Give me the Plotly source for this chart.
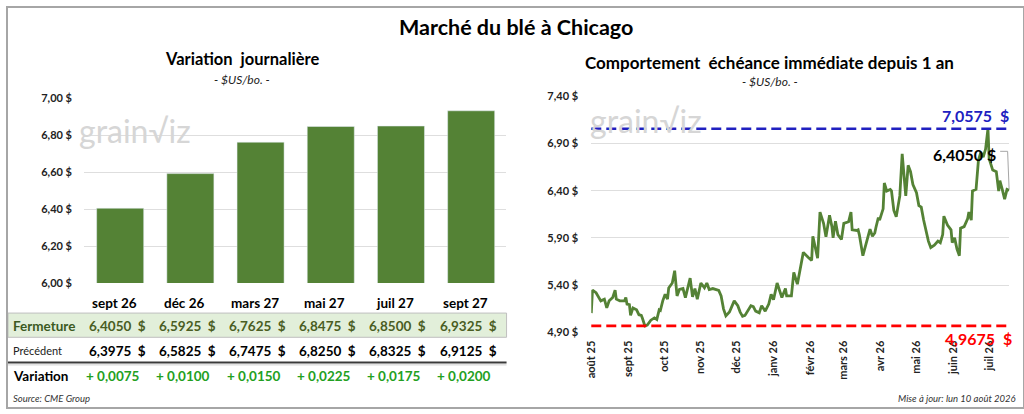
import plotly.graph_objects as go

# ---------------- data ----------------
contracts = ["sept 26", "déc 26", "mars 27", "mai 27", "juil 27", "sept 27"]
close = [6.4050, 6.5925, 6.7625, 6.8475, 6.8500, 6.9325]
previous = [6.3975, 6.5825, 6.7475, 6.8250, 6.8325, 6.9125]

hist_dates = [
    "2025-08-01", "2025-08-02", "2025-08-05", "2025-08-07", "2025-08-09", "2025-08-12", "2025-08-14",
    "2025-08-16", "2025-08-19", "2025-08-21", "2025-08-22", "2025-08-25", "2025-08-29", "2025-08-30",
    "2025-08-31", "2025-09-02", "2025-09-03", "2025-09-05", "2025-09-08", "2025-09-10", "2025-09-12",
    "2025-09-13", "2025-09-15", "2025-09-17", "2025-09-20", "2025-09-23", "2025-09-25", "2025-09-27",
    "2025-09-28", "2025-09-30", "2025-10-02", "2025-10-04", "2025-10-05", "2025-10-08", "2025-10-10",
    "2025-10-12", "2025-10-14", "2025-10-17", "2025-10-19", "2025-10-23", "2025-10-25", "2025-10-27",
    "2025-10-29", "2025-11-01", "2025-11-04", "2025-11-06", "2025-11-08", "2025-11-11", "2025-11-16",
    "2025-11-18", "2025-11-20", "2025-11-22", "2025-11-25", "2025-11-29", "2025-12-02", "2025-12-04",
    "2025-12-06", "2025-12-08", "2025-12-11", "2025-12-13", "2025-12-15", "2025-12-17", "2025-12-20",
    "2025-12-22", "2025-12-25", "2025-12-28", "2025-12-30", "2026-01-01", "2026-01-04", "2026-01-07",
    "2026-01-08", "2026-01-11", "2026-01-12", "2026-01-16", "2026-01-18", "2026-01-21", "2026-01-26",
    "2026-01-30", "2026-02-02", "2026-02-03", "2026-02-05", "2026-02-07", "2026-02-09", "2026-02-12",
    "2026-02-14", "2026-02-17", "2026-02-19", "2026-02-20", "2026-02-22", "2026-02-24", "2026-02-27",
    "2026-03-01", "2026-03-05", "2026-03-07", "2026-03-08", "2026-03-12", "2026-03-13", "2026-03-14",
    "2026-03-17", "2026-03-21", "2026-03-23", "2026-03-25", "2026-03-27", "2026-03-28", "2026-03-30",
    "2026-03-31", "2026-04-03", "2026-04-04", "2026-04-06", "2026-04-09", "2026-04-10", "2026-04-12",
    "2026-04-14", "2026-04-17", "2026-04-19", "2026-04-22", "2026-04-24", "2026-04-26", "2026-04-28",
    "2026-05-01", "2026-05-03", "2026-05-05", "2026-05-07", "2026-05-11", "2026-05-13", "2026-05-16",
    "2026-05-19", "2026-05-21", "2026-05-23", "2026-05-24", "2026-05-27", "2026-05-30", "2026-05-31",
    "2026-06-02", "2026-06-04", "2026-06-06", "2026-06-07", "2026-06-10", "2026-06-13", "2026-06-14",
    "2026-06-16", "2026-06-17", "2026-06-20", "2026-06-22", "2026-06-24", "2026-06-26", "2026-06-28",
    "2026-06-30", "2026-07-01", "2026-07-04", "2026-07-07", "2026-07-09", "2026-07-10", "2026-07-12",
    "2026-07-14", "2026-07-16", "2026-07-18",
]
hist_values = [
    5.103, 5.346, 5.319, 5.275, 5.233, 5.251, 5.158,
    5.233, 5.268, 5.346, 5.251, 5.233, 5.233, 5.268,
    5.199, 5.192, 5.079, 5.158, 5.138, 5.086, 5.079,
    5.045, 4.9675, 4.977, 5.028, 5.052, 5.035, 5.138,
    5.131, 5.233, 5.302, 5.251, 5.370, 5.422, 5.552,
    5.285, 5.353, 5.363, 5.268, 5.473, 5.275, 5.363,
    5.251, 5.422, 5.370, 5.422, 5.353, 5.363, 5.343,
    5.285, 5.148, 5.073, 5.114, 5.233, 5.182, 5.114,
    5.069, 5.079, 5.141, 5.182, 5.172, 5.124, 5.107,
    5.182, 5.124, 5.199, 5.302, 5.244, 5.422, 5.302,
    5.268, 5.363, 5.285, 5.285, 5.535, 5.410, 5.747,
    5.695, 5.661, 5.918, 5.815, 5.685, 6.174, 6.054,
    5.911, 6.140, 6.020, 5.900, 6.078, 5.935, 5.883,
    6.054, 6.071, 6.174, 5.986, 5.979, 5.986, 5.935,
    5.712, 5.883, 5.993, 5.918, 5.952, 6.013, 6.116,
    6.089, 6.208, 6.482, 6.397, 6.414, 6.400, 6.191,
    6.123, 6.345, 6.790, 6.345, 6.670, 6.602, 6.465,
    6.380, 6.243, 6.226, 6.089, 5.866, 5.798, 5.822,
    5.866, 5.849, 5.935, 6.130, 6.037, 5.986, 5.849,
    5.900, 5.781, 5.712, 6.003, 6.020, 6.106, 6.174,
    6.089, 6.397, 6.414, 6.722, 6.807, 6.756, 6.842,
    7.0575, 6.739, 6.619, 6.602, 6.397, 6.506, 6.414,
    6.311, 6.414, 6.405,
]

month_ticks = ["2025-08-01", "2025-09-01", "2025-10-01", "2025-11-01", "2025-12-01", "2026-01-01",
               "2026-02-01", "2026-03-01", "2026-04-01", "2026-05-01", "2026-06-01", "2026-07-01"]
month_labels = ["août 25", "sept 25", "oct 25", "nov 25", "déc 25", "janv 26",
                "févr 26", "mars 26", "avr 26", "mai 26", "juin 26", "juil 26"]

# ---------------- helpers ----------------
W, H = 1024, 414
FONT = "Lato"
GREEN = "#548235"


def fx(px):
    return px / W


def fy(py):
    return 1 - py / H


def fr(v, d=4):
    return f"{v:.{d}f}".replace(".", ",")


hi = max(hist_values)
lo = min(hist_values)
last = hist_values[-1]

fig = go.Figure()

fig.add_trace(go.Bar(x=contracts, y=close, marker_color=GREEN, xaxis="x", yaxis="y",
                     hoverinfo="x+y", showlegend=False))
fig.add_trace(go.Scatter(x=hist_dates, y=hist_values, mode="lines", xaxis="x2", yaxis="y2",
                         line=dict(color=GREEN, width=2.8), showlegend=False))

tickfont = dict(family=FONT, size=11, color="#222222", weight="bold")

fig.update_layout(
    width=W, height=H,
    margin=dict(l=0, r=0, t=0, b=0),
    paper_bgcolor="white", plot_bgcolor="white",
    separators=", ",
    bargap=0.33,
    font=dict(family=FONT, color="#000000"),
    xaxis=dict(domain=[fx(77.7), fx(502.7)], anchor="y", showticklabels=False,
               showgrid=False, showline=False, zeroline=False, fixedrange=True),
    yaxis=dict(domain=[fy(285), fy(94.3)], anchor="x", range=[6.0, 7.0], dtick=0.2,
               tickformat=".2f", ticksuffix=" $", showgrid=True, gridcolor="#dedede",
               gridwidth=1, zeroline=False, showline=False, ticks="outside", ticklen=9,
               tickcolor="rgba(0,0,0,0)", tickfont=tickfont),
    xaxis2=dict(domain=[fx(588.3), fx(1009.3)], anchor="y2", type="date",
                range=[hist_dates[0], hist_dates[-1]], tickvals=month_ticks, ticktext=month_labels,
                tickangle=-90, tickfont=tickfont, showgrid=False, zeroline=False,
                showline=False, ticks="outside", ticklen=3, tickcolor="rgba(0,0,0,0)"),
    yaxis2=dict(domain=[fy(335.8), fy(92.3)], anchor="x2", range=[4.9, 7.4], tick0=4.9,
                dtick=0.5, tickformat=".2f", ticksuffix=" $", showgrid=True,
                gridcolor="#dedede", gridwidth=1, zeroline=False, showline=False,
                ticks="outside", ticklen=10, tickcolor="rgba(0,0,0,0)", tickfont=tickfont),
)

shapes = []
# outer frame
shapes.append(dict(type="rect", xref="paper", yref="paper", x0=0, x1=1, y0=0, y1=1,
                   line=dict(color="#a6a6a6", width=2), fillcolor="rgba(0,0,0,0)", layer="above"))
# table : Fermeture band
shapes.append(dict(type="rect", xref="paper", yref="paper", x0=fx(1), x1=fx(503),
                   y0=fy(341), y1=fy(316), fillcolor="#e2efda",
                   line=dict(color="#bfbfbf", width=1), layer="below"))
# thick line under Précédent
shapes.append(dict(type="line", xref="paper", yref="paper", x0=fx(1), x1=fx(503),
                   y0=fy(367), y1=fy(367), line=dict(color="#3a3a3a", width=2)))
shapes.append(dict(type="line", xref="paper", yref="paper", x0=fx(1), x1=fx(503),
                   y0=fy(369.5), y1=fy(369.5), line=dict(color="#d0d0d0", width=1)))
# max / min dashed lines
shapes.append(dict(type="line", xref="x2 domain", yref="y2", x0=0, x1=1, y0=hi, y1=hi,
                   line=dict(color="#2020c0", width=2.6, dash="10px,5px")))
shapes.append(dict(type="line", xref="x2 domain", yref="y2", x0=0, x1=1, y0=lo, y1=lo,
                   line=dict(color="#ff0000", width=2.6, dash="10px,5px")))
# leader line for last value label
shapes.append(dict(type="path", xref="paper", yref="paper",
                   path=f"M {fx(1000)},{fy(149)} L {fx(1007.5)},{fy(149)} L {fx(1009)},{fy(188)}",
                   line=dict(color="#a6a6a6", width=1)))
fig.update_layout(shapes=shapes)

ann = []


def txt(text, x, y, size, xanchor="center", color="#000000", weight="normal", style="normal",
        xref="paper", xshift=0, yanchor="middle"):
    ann.append(dict(text=text, x=x, y=y, xref=xref, yref="paper", showarrow=False,
                    xanchor=xanchor, yanchor=yanchor, xshift=xshift,
                    font=dict(family=FONT, size=size, color=color, weight=weight, style=style)))


# titles
txt("Marché du blé à Chicago", fx(512), fy(21), 21.5, weight="bold")
txt("Variation  journalière", fx(237), fy(54), 16.5, weight="bold")
txt("- $US/bo. -", fx(237), fy(75), 12, style="italic", color="#222222")
txt("Comportement  échéance immédiate depuis 1 an", fx(768), fy(57), 17, weight="bold")
txt("- $US/bo. -", fx(768), fy(77), 12, style="italic", color="#222222")

# watermarks
txt("grain√iz", fx(70), fy(128), 32, xanchor="left", color="#d6d6d6")
txt("grain√iz", fx(585), fy(117), 32, xanchor="left", color="#d6d6d6")

# table
txt("Fermeture", fx(4), fy(329), 13.5, xanchor="left", color="#3b5a1f", weight="bold")
txt("Précédent", fx(4), fy(355), 11, xanchor="left", color="#222222")
txt("Variation", fx(4), fy(381), 13.5, xanchor="left", weight="bold")
for c, cl, pv in zip(contracts, close, previous):
    var = cl - pv
    sign = "+" if var >= 0 else "-"
    txt(c, c, fy(306), 13.5, xref="x", xshift=-6, weight="bold")
    txt(f"{fr(cl)}  $", c, fy(329), 13.5, xref="x", xshift=-3, color="#4a5d23", weight="bold")
    txt(f"{fr(pv)}  $", c, fy(355), 13.5, xref="x", xshift=-3, weight="bold")
    txt(f"{sign} {fr(abs(var))}", c, fy(381), 13.5, xref="x", xshift=-7,
        color="#22a022", weight="bold")

# footers
txt("Source: CME Group", fx(4), fy(404), 9.5, xanchor="left", style="italic", color="#333333")
txt("Mise à jour: lun 10 août 2026", fx(1018), fy(404), 9.5, xanchor="right",
    style="italic", color="#333333")

fig.update_layout(annotations=ann)

# value labels on the right chart
fig.add_annotation(text=f"{fr(hi)}  $", x=fx(1011), xref="paper", y=hi, yref="y2",
                   xanchor="right", yanchor="bottom", yshift=2, showarrow=False,
                   font=dict(family=FONT, size=16, color="#2020c0", weight="bold"))
fig.add_annotation(text=f"{fr(lo)}  $", x=fx(1014), xref="paper", y=lo, yref="y2",
                   xanchor="right", yanchor="top", yshift=-1, showarrow=False,
                   font=dict(family=FONT, size=16, color="#ff0000", weight="bold"))
fig.add_annotation(text=f"{fr(last)} $", x=fx(998), xref="paper", y=fy(152), yref="paper",
                   xanchor="right", yanchor="middle", showarrow=False,
                   font=dict(family=FONT, size=16, color="#000000", weight="bold"))

fig.write_html("out.html", config={"displayModeBar": False},
               post_script="document.body.style.margin='0';")
